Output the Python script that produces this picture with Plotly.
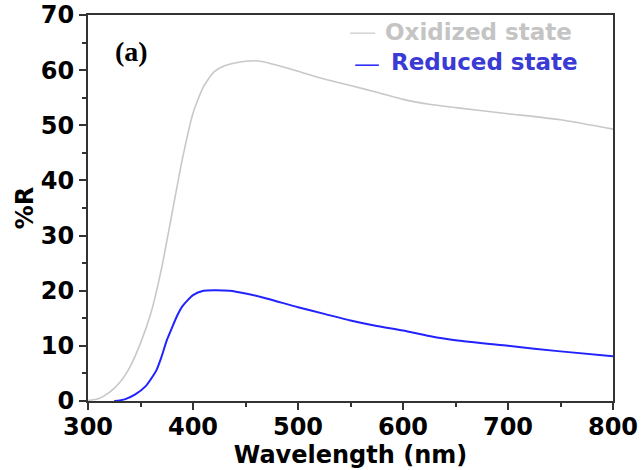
import plotly.graph_objects as go

# Oxidized state
ox_wl = [300, 310, 320, 330, 340, 350, 360, 370, 380, 390, 400, 410, 420, 430, 440,
         450, 460, 470, 480, 500, 525, 550, 575, 600, 625, 650, 700, 750, 800]
ox_r = [0.1, 0.4, 1.5, 3.3, 6.2, 10.5, 16.0, 24.0, 34.0, 44.0, 52.2, 57.0, 59.7, 60.8, 61.3,
        61.6, 61.7, 61.4, 60.9, 59.8, 58.4, 57.2, 56.0, 54.7, 53.8, 53.2, 52.1, 51.0, 49.3]

# Reduced state
red_wl = [325, 335, 345, 355, 360, 365, 370, 375, 380, 385, 390, 400, 410, 420, 435,
          450, 470, 500, 525, 550, 575, 600, 625, 650, 700, 750, 800]
red_r = [0.0, 0.3, 1.2, 2.7, 4.0, 5.5, 8.0, 11.0, 13.3, 15.5, 17.2, 19.2, 20.0, 20.1, 20.0,
         19.5, 18.6, 17.0, 15.8, 14.6, 13.6, 12.8, 11.8, 11.0, 10.0, 9.0, 8.1]

x_ticks = [300, 400, 500, 600, 700, 800]
y_ticks = [0, 10, 20, 30, 40, 50, 60, 70]

ox_color = "#c8c8c8"
red_color = "#2222ff"

fig = go.Figure()
fig.add_trace(go.Scatter(x=ox_wl, y=ox_r, mode="lines", name="Oxidized state",
                         line=dict(color=ox_color, width=1.6, shape="spline", smoothing=0.6),
                         showlegend=False))
fig.add_trace(go.Scatter(x=red_wl, y=red_r, mode="lines", name="Reduced state",
                         line=dict(color=red_color, width=2, shape="spline", smoothing=0.6),
                         showlegend=False))

axis_font = dict(family="DejaVu Sans", size=24, color="#000000", weight="bold")
common = dict(showgrid=False, zeroline=False, showline=True, linecolor="#333333", linewidth=2,
              mirror=True, ticks="outside", ticklen=7, tickwidth=2, tickcolor="#333333",
              tickfont=axis_font, automargin=False, ticklabeloverflow="allow")

fig.update_xaxes(range=[300, 800], tickvals=x_ticks, ticktext=[str(v) for v in x_ticks],
                 minor=dict(ticks="outside", ticklen=4, tickwidth=2, tickcolor="#333333", dtick=50),
                 ticklabelstandoff=-4,
                 title=dict(text="Wavelength (nm)", font=axis_font, standoff=3), **common)
fig.update_yaxes(range=[0, 70], tickvals=y_ticks, ticktext=[str(v) for v in y_ticks],
                 minor=dict(ticks="outside", ticklen=4, tickwidth=2, tickcolor="#333333", dtick=5),
                 title=dict(text="%R", font=axis_font, standoff=0), **common)

# legend drawn as text + short swatches
leg_font = dict(family="DejaVu Sans", size=23, weight="bold")
fig.add_annotation(xref="paper", yref="paper", x=0.562, y=0.955, xanchor="left", yanchor="middle",
                   text="Oxidized state", showarrow=False, font=dict(**leg_font, color="#c4c4c4"))
fig.add_annotation(xref="paper", yref="paper", x=0.573, y=0.877, xanchor="left", yanchor="middle",
                   text="Reduced state", showarrow=False, font=dict(**leg_font, color="#3a3ad4"))
fig.add_shape(type="line", xref="paper", yref="paper", x0=0.499, x1=0.547, y0=0.953, y1=0.953,
              line=dict(color=ox_color, width=1.2))
fig.add_shape(type="line", xref="paper", yref="paper", x0=0.509, x1=0.554, y0=0.870, y1=0.870,
              line=dict(color=red_color, width=1.5))

fig.add_annotation(xref="paper", yref="paper", x=0.082, y=0.906, xanchor="center", yanchor="middle",
                   text="<b>(a)</b>", showarrow=False,
                   font=dict(family="Liberation Serif", size=28, color="#000000"))

fig.update_layout(width=642, height=470, margin=dict(l=88, r=29, t=15, b=69),
                  paper_bgcolor="white", plot_bgcolor="white")

fig.write_html("out.html")
